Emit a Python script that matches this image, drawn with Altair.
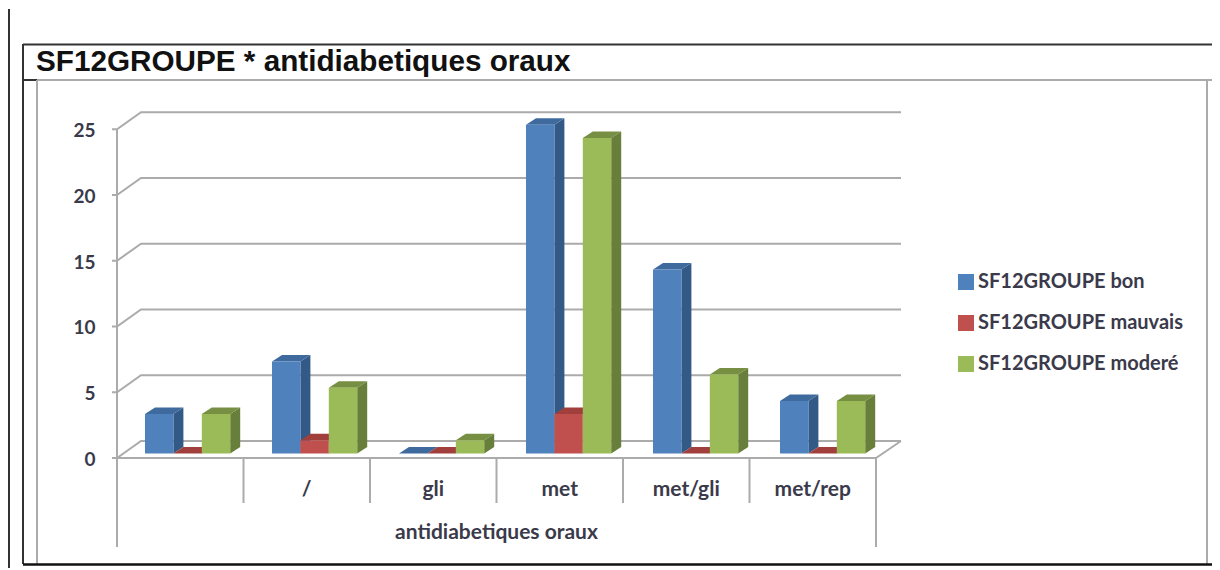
import altair as alt
import pandas as pd

categories = ["", "/", "gli", "met", "met/gli", "met/rep"]
series = ["SF12GROUPE bon", "SF12GROUPE mauvais", "SF12GROUPE moderé"]
bon = [3, 7, 0, 25, 14, 4]
mauvais = [0, 1, 0, 3, 0, 0]
modere = [3, 5, 1, 24, 6, 4]
y_ticks = [0, 5, 10, 15, 20, 25]
axis_title = "antidiabetiques oraux"
chart_title = "SF12GROUPE * antidiabetiques oraux"
front_colors = ["#4F81BD", "#C0504D", "#9BBB59"]
side_colors = ["#335A87", "#8E3A38", "#677F3A"]
top_colors = ["#3E6A9E", "#A03F3C", "#768F42"]

# calibration of the page (pixels)
W, H = 1204, 560
X0, PX_U = 117.0, 126.5
Y0, PX_V = 458.0, 13.15
u = lambda px: (px - X0) / PX_U
v = lambda py: (Y0 - py) / PX_V
x_scale = alt.Scale(domain=[u(8), u(8 + W)], range=[0, W], nice=False, zero=False)
y_scale = alt.Scale(domain=[v(8 + H), v(8)], range=[H, 0], nice=False, zero=False)
X = lambda f: alt.X(f, type="quantitative", scale=x_scale, axis=None)
Y = lambda f: alt.Y(f, type="quantitative", scale=y_scale, axis=None, stack=None)
Y2 = lambda f: alt.Y2(f)

BAR_START = u(145)
BAR_PITCH = 127.0 / PX_U
BAR_W = 28.4 / PX_U
BASE = v(453.5)
DX, DY = 10.0 / PX_U, 6.5 / PX_V
BACK_DX, BACK_DY = 24 / PX_U, 17 / PX_V
GRID_END = u(901)

front, side, top = [], [], []
bid = 0
for s, (name, vals) in enumerate(zip(series, [bon, mauvais, modere])):
    for c, val in enumerate(vals):
        bid += 1
        x0 = c * BAR_PITCH + BAR_START + s * BAR_W
        x1 = x0 + BAR_W
        t = BASE + val
        front.append(dict(x=x0, x2=x1, y=BASE, y2=t, series=name))
        side += [
            dict(id=bid, x=x1, y=BASE, y2=t, fill=side_colors[s]),
            dict(id=bid, x=x1 + DX, y=BASE + DY, y2=t + DY, fill=side_colors[s]),
        ]
        top += [
            dict(id=bid, x=x0, y=t, y2=t, fill=top_colors[s]),
            dict(id=bid, x=x0 + DX, y=t, y2=t + DY, fill=top_colors[s]),
            dict(id=bid, x=x1, y=t, y2=t + DY, fill=top_colors[s]),
            dict(id=bid, x=x1 + DX, y=t + DY, y2=t + DY, fill=top_colors[s]),
        ]

lines = []
def path(pts):
    gid = (lines[-1]["g"] + 1) if lines else 0
    for i, (a, b) in enumerate(pts):
        lines.append(dict(g=gid, i=i, x=a, y=b))

for tk in y_ticks:
    path([(-5 / PX_U, tk), (0, tk), (BACK_DX, tk + BACK_DY), (GRID_END, tk + BACK_DY)])
path([(0, 0), (6, 0), (GRID_END, BACK_DY)])
path([(0, 25), (0, v(547))])
path([(6, 0), (6, v(547))])
for c in range(1, 6):
    path([(c, 0), (c, v(503))])

line_layer = (
    alt.Chart(pd.DataFrame(lines))
    .mark_line(color="#ABABAB", strokeWidth=2, clip=False)
    .encode(x=X("x"), y=Y("y"), detail="g:N", order="i:Q")
)
side_layer = (
    alt.Chart(pd.DataFrame(side))
    .mark_area(opacity=1, interpolate="linear")
    .encode(x=X("x"), y=Y("y"), y2=Y2("y2"), detail="id:N", fill=alt.Fill("fill:N", scale=None))
)
top_layer = (
    alt.Chart(pd.DataFrame(top))
    .mark_area(opacity=1, interpolate="linear")
    .encode(x=X("x"), y=Y("y"), y2=Y2("y2"), detail="id:N", fill=alt.Fill("fill:N", scale=None))
)
front_layer = (
    alt.Chart(pd.DataFrame(front))
    .mark_rect(opacity=1)
    .encode(
        x=X("x"), x2=alt.X2("x2"), y=Y("y"), y2=Y2("y2"),
        color=alt.Color(
            "series:N",
            scale=alt.Scale(domain=series, range=front_colors),
            legend=alt.Legend(
                orient="none", legendX=948, legendY=264, title=None,
                symbolType="square", symbolSize=256, symbolStrokeWidth=0,
                symbolOpacity=1, labelFont="Lato", labelFontSize=20,
                labelFontWeight="bold", labelColor="#3A3A4A", labelOffset=2,
                rowPadding=21, labelLimit=400,
            ),
        ),
    )
)

TXT = dict(font="Lato", fontSize=21, fontWeight="bold", color="#3A3A4A")
YTXT = dict(TXT, fontSize=19)
ytxt = (
    alt.Chart(pd.DataFrame({"t": y_ticks, "x": [u(95.5)] * len(y_ticks), "y": [k - 0.15 for k in y_ticks]}))
    .mark_text(align="right", baseline="middle", **YTXT)
    .encode(x=X("x"), y=Y("y"), text="t:N")
)
xtxt = (
    alt.Chart(pd.DataFrame({"t": categories, "x": [i + 0.5 for i in range(6)], "y": [v(490)] * 6}))
    .mark_text(align="center", baseline="middle", **TXT)
    .encode(x=X("x"), y=Y("y"), text="t:N")
)
atxt = (
    alt.Chart(pd.DataFrame({"t": [axis_title], "x": [3.0], "y": [v(533)]}))
    .mark_text(align="center", baseline="middle", **TXT)
    .encode(x=X("x"), y=Y("y"), text="t:N")
)
ttxt = (
    alt.Chart(pd.DataFrame({"t": [chart_title]}))
    .mark_text(align="left", baseline="middle", font="Liberation Sans", fontWeight="bold", fontSize=29.7, color="#111111")
    .encode(x=alt.value(36 - 8), y=alt.value(62 - 8), text="t:N")
)

# frame of the screenshot (page pixels minus the 8px margin)
def hline(x1, x2, y, color, w):
    return alt.Chart(pd.DataFrame({"a": [0]})).mark_rule(color=color, strokeWidth=w).encode(
        x=alt.value(x1 - 8), x2=alt.value(x2 - 8), y=alt.value(y - 8))
def vline(x, y1, y2, color, w):
    return alt.Chart(pd.DataFrame({"a": [0]})).mark_rule(color=color, strokeWidth=w).encode(
        x=alt.value(x - 8), y=alt.value(y1 - 8), y2=alt.value(y2 - 8))

frames = [
    vline(9, 9, 568, "#333333", 2),
    hline(23, 1212, 44.5, "#333333", 2),
    hline(37, 1212, 80, "#ABABAB", 2),
    hline(23, 37, 80, "#333333", 2),
    vline(23, 44, 564, "#333333", 2),
    vline(37, 80, 564, "#ABABAB", 2),
    vline(1207, 80, 564, "#ABABAB", 2),
    hline(23, 1212, 564.5, "#111111", 2.5),
]

chart = (
    alt.layer(*frames, line_layer, side_layer, top_layer, front_layer, ytxt, xtxt, atxt, ttxt)
    .properties(width=W, height=H, padding=0, autosize=alt.AutoSizeParams(type="none"), background="white")
    .configure_view(stroke=None)
)
chart.save("out.html", embed_options={"renderer": "svg", "actions": False})
